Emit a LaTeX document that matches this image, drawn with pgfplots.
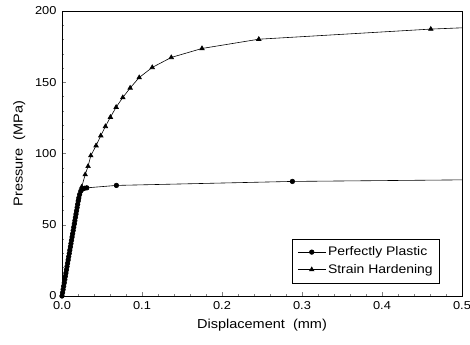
\documentclass[border=0pt]{standalone}
\usepackage{fontspec}
\setmainfont{Liberation Sans}
\newfontfamily\widesans[FakeStretch=1.12]{Liberation Sans}
\usepackage{pgfplots}
\pgfplotsset{compat=1.18}
\begin{document}
\begin{tikzpicture}
\useasboundingbox (-62bp,-49bp) rectangle (408bp,296bp);
\begin{axis}[
  scale only axis,
  width=400bp, height=285bp,
  xmin=0, xmax=0.5, ymin=0, ymax=200,
  xtick={0,0.1,0.2,0.3,0.4,0.5},
  ytick={0,50,100,150,200},
  minor x tick num=4, minor y tick num=4,
  tick align=inside, tick pos=left,
  major tick length=4bp, minor tick length=2bp,
  xticklabel style={yshift=-2bp, /pgf/number format/.cd,fixed,fixed zerofill,precision=1},
  yticklabel style={xshift=-2bp},
  /pgf/number format/assume math mode=true,
  tick label style={font=\widesans\fontsize{11.5}{13}\selectfont},
  label style={font=\widesans\fontsize{13}{15}\selectfont},
  xlabel={Displacement\ \ (mm)},
  ylabel={Pressure\ \ (MPa)},
  xlabel style={yshift=-3bp},
  ylabel style={yshift=3bp},
  axis line style={line width=0.8pt},
  legend style={at={(0.945,0.045)}, anchor=south east, draw=black, line width=0.6pt,
    font=\widesans\fontsize{12.5}{15}\selectfont, row sep=3bp, inner xsep=5bp, inner ysep=6bp,
    legend cell align=left},
  legend image code/.code={%
    \draw[#1, line width=0.6pt, mark indices={2}] plot coordinates {(0bp,0bp) (14bp,0bp) (28bp,0bp)};},
]
\addplot[black, line width=0.6pt, mark=*, mark size=2.3pt,
  mark indices={1,2,3,4,5,6,7,8,9,10,11,12,13,14,15,16,17,18,19,20,21,22,23,24,25,26,27,28,29,30,31,32,33,34,35,36,37,38}]
coordinates {
(0,0) (0.0007,2.3) (0.0014,4.6) (0.0021,6.9) (0.0028,9.2) (0.0035,11.5)
(0.0042,13.8) (0.0049,16.1) (0.0056,18.4) (0.0063,20.7) (0.0070,23.0)
(0.0077,25.3) (0.0084,27.6) (0.0091,29.9) (0.0098,32.2) (0.0105,34.5)
(0.0112,36.8) (0.0119,39.1) (0.0126,41.4) (0.0133,43.7) (0.0140,46.0)
(0.0147,48.3) (0.0154,50.6) (0.0161,52.9) (0.0168,55.2) (0.0175,57.5)
(0.0182,59.8) (0.0189,62.1) (0.0196,64.4) (0.0203,66.7) (0.0210,68.8)
(0.0220,71.2) (0.0235,73.6) (0.0255,75.0) (0.0280,75.6) (0.0310,75.9)
(0.068,77.6) (0.288,80.4) (0.5,81.5)
};
\addlegendentry{Perfectly Plastic}
\addplot[black, line width=0.6pt, mark=triangle*, mark size=2.6pt,
  mark indices={2,3,4,5,6,7,8,9,10,11,12,13,14,15,16,17,18}]
coordinates {
(0.0215,70.0) (0.0246,76.5) (0.0290,85.2) (0.0326,91.0) (0.0360,98.5)
(0.0426,105.5) (0.0485,112.5) (0.0543,119.0) (0.0605,125.5) (0.0677,132.5)
(0.0760,139.3) (0.0852,146.0) (0.0965,153.3) (0.1128,160.4) (0.1366,167.4)
(0.1750,173.7) (0.2460,180.2) (0.4610,187.3) (0.5,188.2)
};
\addlegendentry{Strain Hardening}
\end{axis}
\end{tikzpicture}
\end{document}
